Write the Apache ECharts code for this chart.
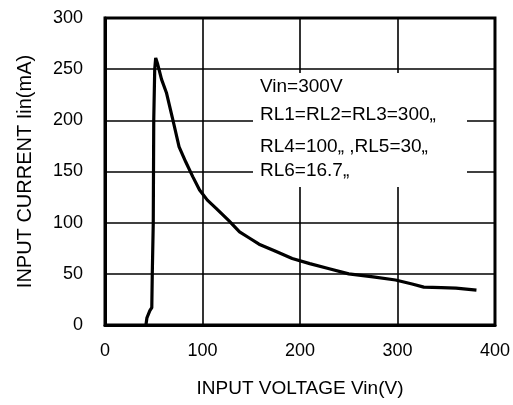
<!DOCTYPE html>
<html>
<head>
<meta charset="utf-8">
<script src="https://cdn.jsdelivr.net/npm/echarts@6/dist/echarts.min.js"></script>
<style>html,body{margin:0;padding:0;background:#fff}#c{width:513px;height:405px}</style>
</head>
<body>
<div id="c"></div>
<script>
// Data
var xTicks = [0, 100, 200, 300, 400];
var yTicks = [0, 50, 100, 150, 200, 250, 300];
var vin = [42, 43, 46, 48, 48.5, 49.5, 50, 51, 52, 54, 58, 63, 69, 76, 83, 90, 97, 105, 114, 127, 138, 148, 158, 175, 192, 210, 230, 250, 275, 298, 315, 327, 345, 360, 381];
var iin = [0, 7, 14, 17, 50, 100, 200, 250, 261, 255, 240, 227, 203, 174, 159, 145, 132, 122, 114, 102, 91, 85, 79, 72, 65, 60, 55, 50, 47, 44, 40, 37, 36.5, 36, 34];
var noteLines = ['Vin=300V', 'RL1=RL2=RL3=300\u201e', 'RL4=100\u201e ,RL5=30\u201e', 'RL6=16.7\u201e'];
var xTitle = 'INPUT VOLTAGE Vin(V)';
var yTitle = 'INPUT CURRENT Iin(mA)';

var pts = vin.map(function (v, i) { return [v, iin[i]]; });
var font = 'Liberation Sans, Arial, sans-serif';
var noteY = [87, 115, 147, 171];

var chart = echarts.init(document.getElementById('c'), null, {renderer: 'canvas'});
chart.setOption({
  backgroundColor: '#fff',
  animation: false,
  grid: {left: 105, right: 16, top: 18, bottom: 80, show: true, borderColor: '#000', borderWidth: 3, backgroundColor: 'transparent'},
  xAxis: {
    type: 'value', min: xTicks[0], max: xTicks[xTicks.length - 1], interval: 100,
    name: xTitle, nameLocation: 'middle', nameGap: 54,
    nameTextStyle: {color: '#000', fontSize: 19, fontFamily: font},
    axisLine: {show: true, lineStyle: {color: '#000', width: 3}},
    axisTick: {show: false},
    axisLabel: {color: '#000', fontSize: 18, fontFamily: font, margin: 17},
    splitLine: {show: true, lineStyle: {color: '#000', width: 1.6}}
  },
  yAxis: {
    type: 'value', min: yTicks[0], max: yTicks[yTicks.length - 1], interval: 50,
    name: yTitle, nameLocation: 'middle', nameGap: 70,
    nameTextStyle: {color: '#000', fontSize: 20, fontFamily: font},
    axisLine: {show: true, lineStyle: {color: '#000', width: 3}},
    axisTick: {show: false},
    axisLabel: {color: '#000', fontSize: 18, fontFamily: font, margin: 22},
    splitLine: {show: true, lineStyle: {color: '#000', width: 1.6}}
  },
  graphic: [
    {type: 'rect', z: 1, shape: {x: 253, y: 73, width: 214, height: 114}, style: {fill: '#fff'}}
  ].concat(noteLines.map(function (t, i) {
    return {type: 'text', z: 2, x: 260, y: noteY[i], style: {text: t, fill: '#000', font: '19px ' + font, textVerticalAlign: 'middle'}};
  })),
  series: [{
    type: 'line', data: pts, showSymbol: false, symbol: 'none',
    lineStyle: {color: '#000', width: 3.2}, z: 3
  }]
});
</script>
</body>
</html>
